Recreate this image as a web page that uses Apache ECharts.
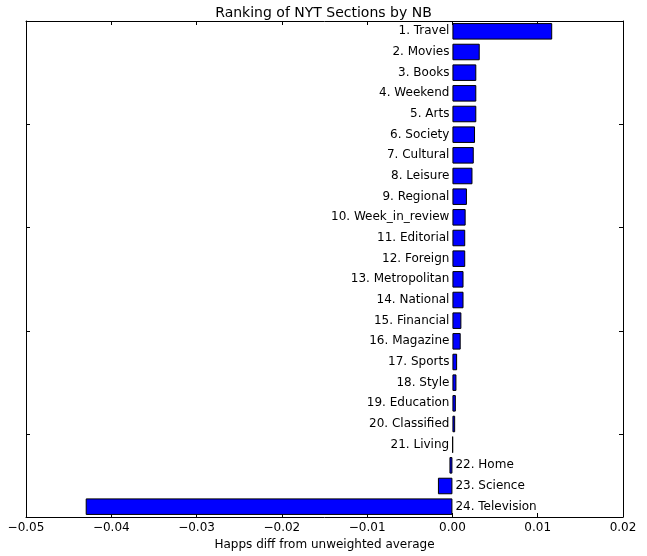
<!DOCTYPE html>
<html>
<head>
<meta charset="utf-8">
<script src="https://cdn.jsdelivr.net/npm/echarts@6/dist/echarts.min.js"></script>
<style>html,body{margin:0;padding:0;background:#fff}#c{width:647px;height:556px}</style>
</head>
<body>
<div id="c"></div>
<script>
// Sections in rank order (1 = top of chart)
var sections = ["Travel","Movies","Books","Weekend","Arts","Society","Cultural","Leisure",
  "Regional","Week_in_review","Editorial","Foreign","Metropolitan","National","Financial",
  "Magazine","Sports","Style","Education","Classified","Living","Home","Science","Television"];
var values = [0.0117,0.0032,0.0028,0.0028,0.0028,0.00265,0.0025,0.00235,
  0.0017,0.00155,0.0015,0.0015,0.0013,0.0013,0.00105,
  0.00097,0.00055,0.00047,0.0004,0.00032,0.00005,-0.00035,-0.0017,-0.0430];
var xTicks = {min:-0.05, max:0.02, step:0.01};
var title = "Ranking of NYT Sections by NB";
var xName = "Happs diff from unweighted average";

// bottom-to-top ordering for the category axis
var cats = [], data = [];
for (var i = sections.length - 1; i >= 0; i--) {
  var lbl = (i + 1) + ". " + sections[i];
  cats.push(lbl);
  data.push({
    value: values[i],
    label: {position: values[i] >= 0 ? 'left' : 'right'}
  });
}
function fmt(v){
  var s = Math.abs(v).toFixed(2);
  return (v < -1e-9 ? '\u2212' : '') + s;
}
var font = 'DejaVu Sans';
var tickStyle = {show:true, inside:true, length:4, lineStyle:{color:'#000', width:1}};
var lineStyle = {show:true, onZero:false, lineStyle:{color:'#000', width:1}};
function yTickInterval(idx){ return idx % 5 === 4; }

var chart = echarts.init(document.getElementById('c'), null, {renderer:'canvas'});
chart.setOption({
  animation:false,
  backgroundColor:'#fff',
  title:{text:title, left:'center', top:1,
    textStyle:{fontFamily:font, fontSize:14, fontWeight:'normal', color:'#000'}},
  grid:{left:26, top:21, right:24, bottom:39, containLabel:false},
  xAxis:[{
    type:'value', position:'bottom', min:xTicks.min, max:xTicks.max, interval:xTicks.step,
    axisLine:lineStyle, axisTick:tickStyle, splitLine:{show:false},
    axisLabel:{formatter:fmt, fontFamily:font, fontSize:12, color:'#000', margin:5, showMinLabel:true, showMaxLabel:true},
    name:xName, nameLocation:'middle', nameGap:20,
    nameTextStyle:{fontFamily:font, fontSize:12, color:'#000'}
  },{
    type:'value', position:'top', min:xTicks.min, max:xTicks.max, interval:xTicks.step,
    axisLine:lineStyle, axisTick:tickStyle, splitLine:{show:false}, axisLabel:{show:false}
  }],
  yAxis:[{
    type:'category', position:'left', data:cats,
    axisLine:lineStyle, axisTick:Object.assign({interval:yTickInterval}, tickStyle),
    axisLabel:{show:false}, splitLine:{show:false}
  },{
    type:'category', position:'right', data:cats,
    axisLine:lineStyle, axisTick:Object.assign({interval:yTickInterval}, tickStyle),
    axisLabel:{show:false}, splitLine:{show:false}
  }],
  series:[{
    type:'bar', xAxisIndex:0, yAxisIndex:0, data:data, barWidth:'80%',
    itemStyle:{color:'#0000ff', borderColor:'#000', borderWidth:1},
    label:{show:true, formatter:function(p){return p.name;}, distance:3,
      fontFamily:font, fontSize:12, color:'#000'}
  }]
});
</script>
</body>
</html>
